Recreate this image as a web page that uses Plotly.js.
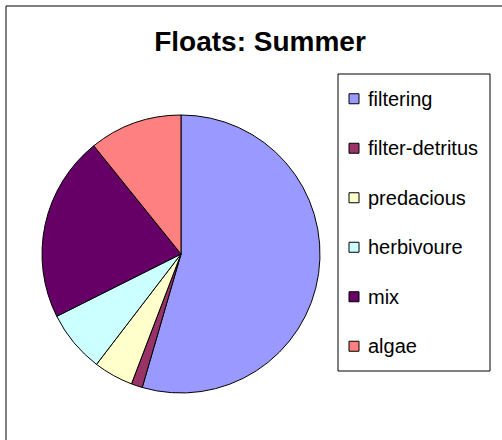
<!DOCTYPE html>
<html>
<head>
<meta charset="utf-8">
<script src="https://cdn.plot.ly/plotly-3.0.1.min.js"></script>
<style>
  html, body { margin: 0; padding: 0; background: #fff; }
  #chart { width: 502px; height: 440px; }
</style>
</head>
<body>
<div id="chart"></div>
<script>
// Data (percent of total)
const categories = ["filtering", "filter-detritus", "predacious", "herbivoure", "mix", "algae"];
const values = [54.5, 1.3, 4.6, 7.2, 21.6, 10.8];
const colors = ["#9999FF", "#993366", "#FFFFCC", "#CCFFFF", "#660066", "#FF8080"];
const chartTitle = "Floats: Summer";

const W = 502, H = 440;
const px = x => x / W;
const py = y => 1 - y / H;

// Pie geometry (pixels)
const cx = 181, cy = 254, r = 139;

const trace = {
  type: "pie",
  labels: categories,
  values: values,
  sort: false,
  direction: "clockwise",
  rotation: 0,
  textinfo: "none",
  hoverinfo: "label+percent",
  showlegend: false,
  marker: { colors: colors, line: { color: "#000000", width: 1 } },
  domain: { x: [px(cx - r), px(cx + r)], y: [py(cy + r), py(cy - r)] }
};

// Manual legend (box, swatches, labels) built from the arrays
const shapes = [];
const annotations = [];
const legL = 338, legR = 490, legT = 74, legB = 371;
shapes.push({ type: "rect", xref: "paper", yref: "paper",
  x0: px(legL), x1: px(legR), y0: py(legB), y1: py(legT),
  line: { color: "#000000", width: 1 }, fillcolor: "rgba(0,0,0,0)" });
const rowH = (legB - legT) / categories.length;
categories.forEach((c, i) => {
  const yc = legT + rowH * (i + 0.5);
  shapes.push({ type: "rect", xref: "paper", yref: "paper",
    x0: px(349), x1: px(359), y0: py(yc + 5), y1: py(yc - 5),
    fillcolor: colors[i], line: { color: "#000000", width: 1 } });
  annotations.push({ xref: "paper", yref: "paper", x: px(366), y: py(yc),
    xanchor: "left", yanchor: "middle", showarrow: false, text: c,
    font: { family: "Liberation Sans, Arial, sans-serif", size: 20, color: "#000000" } });
});

// Outer chart border: only top and left edges are inside the image
shapes.push({ type: "line", xref: "paper", yref: "paper",
  x0: px(6), x1: 1, y0: py(6), y1: py(6), line: { color: "#000000", width: 1 } });
shapes.push({ type: "line", xref: "paper", yref: "paper",
  x0: px(6), x1: px(6), y0: 0, y1: py(6), line: { color: "#000000", width: 1 } });

const layout = {
  width: W, height: H,
  margin: { l: 0, r: 0, t: 0, b: 0 },
  paper_bgcolor: "#ffffff",
  plot_bgcolor: "#ffffff",
  title: {
    text: "<b>" + chartTitle + "</b>",
    font: { family: "Liberation Sans, Arial, sans-serif", size: 28, color: "#000000" },
    x: px(260), xanchor: "center", xref: "paper",
    y: py(41), yanchor: "middle", yref: "container"
  },
  shapes: shapes,
  annotations: annotations,
  showlegend: false
};

Plotly.newPlot("chart", [trace], layout, { displayModeBar: false, staticPlot: true });
</script>
</body>
</html>
